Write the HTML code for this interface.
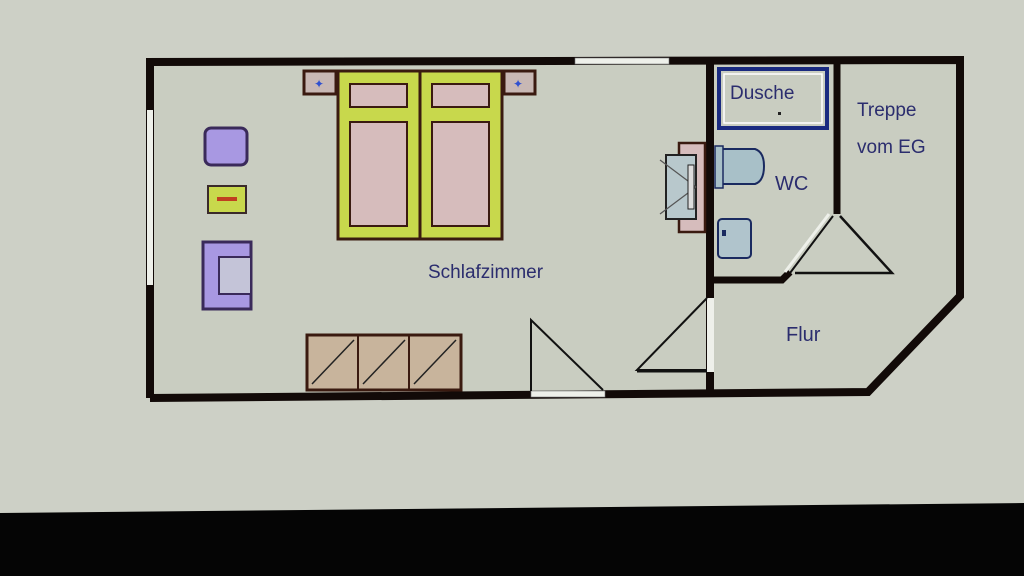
<!DOCTYPE html>
<html><head><meta charset="utf-8"><style>
html,body{margin:0;padding:0;background:#cdd0c6;}
svg{display:block;}
text{font-family:"Liberation Sans",sans-serif;fill:#2b2d6e;}
</style></head><body>
<svg width="1024" height="576" viewBox="0 0 1024 576" xmlns="http://www.w3.org/2000/svg">
<rect width="1024" height="576" fill="#cdd0c6"/>
<polygon points="0,513 1024,503 1024,576 0,576" fill="#050505"/>
<!-- floor -->
<polygon points="152,64 958,62 958,295 866,390 152,394" fill="#c9cdc1"/>
<!-- outer walls -->
<polyline points="150,398 150,62 960,60 960,296 868,392 150,398" fill="none" stroke="#120a08" stroke-width="8"/>
<!-- windows -->
<rect x="575" y="58" width="94" height="6" fill="#eef0ea" stroke="#777" stroke-width="0.6"/>
<rect x="147" y="110" width="6" height="175" fill="#eef0ea"/>
<rect x="531" y="391" width="74" height="6" fill="#eef0ea" stroke="#777" stroke-width="0.6"/>
<!-- interior walls -->
<line x1="710" y1="62" x2="710" y2="392" stroke="#120a08" stroke-width="8"/>
<line x1="837" y1="62" x2="837" y2="214" stroke="#120a08" stroke-width="7"/>
<polyline points="714,280 782,280 790,272" fill="none" stroke="#120a08" stroke-width="7"/>
<rect x="707" y="298" width="7" height="74" fill="#eef0ea"/>
<!-- doors -->
<polyline points="531,391 531,320 603,390" fill="none" stroke="#111" stroke-width="2"/>
<polyline points="707,298 637,370 707,370" fill="none" stroke="#111" stroke-width="2"/>
<line x1="637" y1="371" x2="707" y2="371" stroke="#111" stroke-width="3"/>
<polyline points="790,273 833,216" fill="none" stroke="#111" stroke-width="2"/>
<polyline points="785,272 829,214" fill="none" stroke="#eef0ea" stroke-width="3"/>
<polyline points="840,216 892,273 795,273" fill="none" stroke="#111" stroke-width="2.5"/>
<!-- nightstands -->
<rect x="304" y="71" width="32" height="23" fill="#c8b8b4" stroke="#3a1a10" stroke-width="3"/>
<rect x="504" y="71" width="31" height="23" fill="#c8b8b4" stroke="#3a1a10" stroke-width="3"/>
<text x="314" y="88" font-size="12" fill="#3050d0" style="fill:#3050d0">✦</text>
<text x="513" y="88" font-size="12" style="fill:#3050d0">✦</text>
<!-- bed -->
<rect x="338" y="71" width="164" height="168" fill="#c8d84c" stroke="#3a1a10" stroke-width="3"/>
<line x1="420" y1="71" x2="420" y2="239" stroke="#3a1a10" stroke-width="3"/>
<rect x="350" y="84" width="57" height="23" fill="#d6bcbc" stroke="#3a1a10" stroke-width="2"/>
<rect x="432" y="84" width="57" height="23" fill="#d6bcbc" stroke="#3a1a10" stroke-width="2"/>
<rect x="350" y="122" width="57" height="104" fill="#d6bcbc" stroke="#3a1a10" stroke-width="2"/>
<rect x="432" y="122" width="57" height="104" fill="#d6bcbc" stroke="#3a1a10" stroke-width="2"/>
<!-- left furniture -->
<rect x="205" y="128" width="42" height="37" rx="6" fill="#a898e2" stroke="#3a2a5a" stroke-width="3"/>
<rect x="208" y="186" width="38" height="27" fill="#c8d84c" stroke="#3a2a2a" stroke-width="2"/>
<rect x="217" y="197" width="20" height="4" fill="#c04020"/>
<path d="M203,242 H251 V309 H203 Z" fill="#a898e2" stroke="#3a2a5a" stroke-width="3"/>
<rect x="219" y="257" width="32" height="37" fill="#c4c4d8" stroke="#3a2a5a" stroke-width="2"/>
<!-- wardrobe -->
<rect x="307" y="335" width="154" height="55" fill="#c8b49c" stroke="#3a1a10" stroke-width="3"/>
<line x1="358" y1="335" x2="358" y2="390" stroke="#3a1a10" stroke-width="2"/>
<line x1="409" y1="335" x2="409" y2="390" stroke="#3a1a10" stroke-width="2"/>
<line x1="312" y1="384" x2="354" y2="340" stroke="#222" stroke-width="1.5"/>
<line x1="363" y1="384" x2="405" y2="340" stroke="#222" stroke-width="1.5"/>
<line x1="414" y1="384" x2="456" y2="340" stroke="#222" stroke-width="1.5"/>
<!-- sink in bedroom -->
<rect x="679" y="143" width="26" height="89" fill="#d6bcbc" stroke="#3a1a10" stroke-width="2.5"/>
<rect x="666" y="155" width="30" height="64" fill="#b8c8cc" stroke="#222" stroke-width="2"/>
<line x1="660" y1="160" x2="696" y2="187" stroke="#555" stroke-width="1.2"/>
<line x1="660" y1="214" x2="696" y2="187" stroke="#555" stroke-width="1.2"/>
<rect x="688" y="165" width="6" height="44" fill="#ddd" stroke="#222" stroke-width="1"/>
<!-- shower -->
<rect x="719" y="69" width="108" height="59" fill="#c9cdc1" stroke="#1a2a80" stroke-width="4"/>
<rect x="724" y="74" width="98" height="49" fill="none" stroke="#ffffff" stroke-width="1.5"/>
<rect x="778" y="112" width="3" height="3" fill="#222"/>
<!-- toilet -->
<path d="M719,149 H755 Q764,152 764,166 Q764,181 755,184 H719 Z" fill="#a8c0c8" stroke="#1a2a60" stroke-width="2"/>
<rect x="715" y="146" width="8" height="42" fill="#a8c0c8" stroke="#1a2a60" stroke-width="1.5"/>
<rect x="718" y="219" width="33" height="39" rx="4" fill="#b0c4cc" stroke="#1a2a60" stroke-width="2"/>
<rect x="722" y="230" width="4" height="6" fill="#1a2a60"/>
<!-- labels -->
<text x="428" y="278" font-size="19">Schlafzimmer</text>
<text x="730" y="99" font-size="19">Dusche</text>
<text x="775" y="190" font-size="20">WC</text>
<text x="857" y="116" font-size="19">Treppe</text>
<text x="857" y="153" font-size="19">vom EG</text>
<text x="786" y="341" font-size="20">Flur</text>
</svg>
</body></html>
